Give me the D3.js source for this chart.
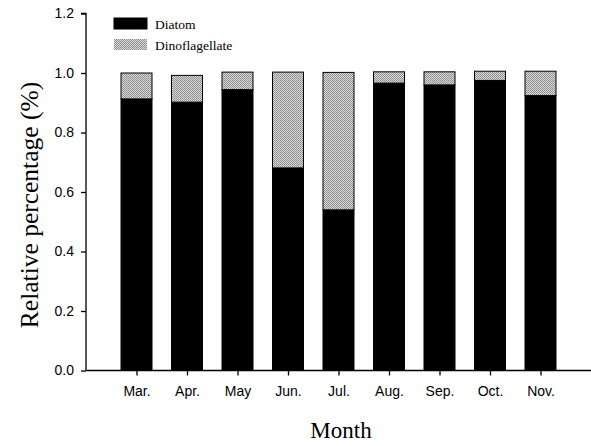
<!DOCTYPE html>
<html>
<head>
<meta charset="utf-8">
<script src="https://cdn.jsdelivr.net/npm/d3@7/dist/d3.min.js"></script>
<style>
  html, body { margin: 0; padding: 0; background: #fff; }
  svg { display: block; }
</style>
</head>
<body>
<svg id="chart" width="591" height="446"></svg>
<script>
// Monthly relative composition of phytoplankton
const months = ["Mar.", "Apr.", "May", "Jun.", "Jul.", "Aug.", "Sep.", "Oct.", "Nov."];
const diatom = [0.913, 0.902, 0.944, 0.681, 0.540, 0.966, 0.960, 0.975, 0.924];
const dinoflagellate = [0.087, 0.090, 0.059, 0.322, 0.462, 0.038, 0.044, 0.031, 0.082];
const seriesNames = ["Diatom", "Dinoflagellate"];
const yTicks = [0, 0.2, 0.4, 0.6, 0.8, 1.0, 1.2];

const svg = d3.select("#chart");
const plotLeft = 86, plotRight = 591, plotTop = 13.5, plotBottom = 370.5;

const x = d3.scalePoint().domain(months).range([plotLeft, plotRight]).padding(1);
const y = d3.scaleLinear().domain([0, 1.2]).range([plotBottom, plotTop]);
const barW = 31;

// Stippled fill for the dinoflagellate segments
const defs = svg.append("defs");
const pat = defs.append("pattern")
  .attr("id", "stipple").attr("patternUnits", "userSpaceOnUse")
  .attr("width", 2).attr("height", 2);
pat.append("rect").attr("width", 2).attr("height", 2).attr("fill", "#d6d6d6");
pat.append("rect").attr("x", 0).attr("y", 0).attr("width", 1).attr("height", 1).attr("fill", "#8c8c8c");
pat.append("rect").attr("x", 1).attr("y", 1).attr("width", 1).attr("height", 1).attr("fill", "#9a9a9a");

const rows = months.map((m, i) => ({ month: m, Diatom: diatom[i], Dinoflagellate: dinoflagellate[i] }));
const stack = d3.stack().keys(seriesNames)(rows);
const fills = { Diatom: "#000", Dinoflagellate: "url(#stipple)" };

svg.append("g").selectAll("g")
  .data(stack).join("g")
  .attr("fill", d => fills[d.key])
  .selectAll("rect")
  .data(d => d).join("rect")
  .attr("x", d => x(d.data.month) - barW / 2)
  .attr("width", barW)
  .attr("y", d => y(d[1]))
  .attr("height", d => y(d[0]) - y(d[1]))
  .attr("stroke", "#000")
  .attr("stroke-width", 1);

// Axes
const yAxis = d3.axisLeft(y).tickValues(yTicks).tickFormat(d3.format(".1f"))
  .tickSize(5).tickPadding(7);
const gy = svg.append("g").attr("transform", `translate(${plotLeft},0)`).call(yAxis);
gy.select(".domain").attr("d", `M-5,${plotTop}H0V${plotBottom}`);

const xAxis = d3.axisBottom(x).tickSize(5).tickPadding(11).tickSizeOuter(0);
const gx = svg.append("g").attr("transform", `translate(0,${plotBottom})`).call(xAxis);
gx.select(".domain").attr("d", `M${plotLeft},0H${plotRight}`);

svg.selectAll(".domain, .tick line").attr("stroke", "#000").attr("stroke-width", 1.3);
svg.selectAll(".tick text")
  .attr("font-family", "'Liberation Sans', Arial, sans-serif")
  .attr("font-size", 14).attr("fill", "#000");

// Axis titles
svg.append("text")
  .attr("transform", `translate(38,205) rotate(-90)`)
  .attr("text-anchor", "middle")
  .attr("font-family", "'Liberation Serif', 'Times New Roman', serif")
  .attr("font-size", 25.5)
  .text("Relative percentage (%)");

svg.append("text")
  .attr("x", 341).attr("y", 438)
  .attr("text-anchor", "middle")
  .attr("font-family", "'Liberation Serif', 'Times New Roman', serif")
  .attr("font-size", 23)
  .text("Month");

// Legend
const legend = svg.append("g").attr("transform", "translate(114,18)");
seriesNames.forEach((name, i) => {
  const g = legend.append("g").attr("transform", `translate(0,${i * 21})`);
  g.append("rect").attr("width", 33).attr("height", 11)
    .attr("fill", fills[name]).attr("stroke", name === "Diatom" ? "#000" : "none");
  g.append("text").attr("x", 41).attr("y", 10.5)
    .attr("font-family", "'Liberation Serif', 'Times New Roman', serif")
    .attr("font-size", 13.5)
    .text(name);
});
</script>
</body>
</html>
